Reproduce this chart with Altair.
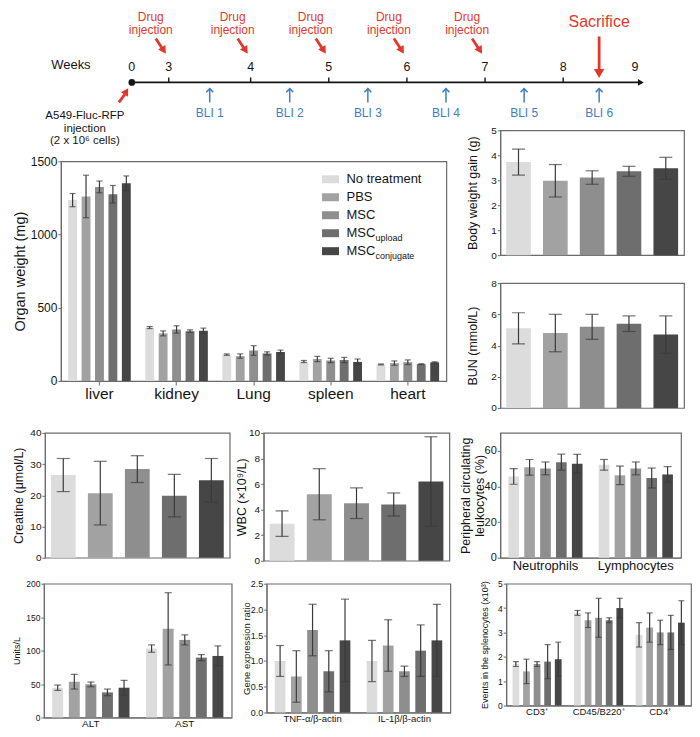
import altair as alt
import pandas as pd

FONT = "Liberation Sans"
RED = "#e2382c"
BLUE = "#3d7ebf"
FRAME = "#6b6b6b"
EBAR = "#3a3a3a"
INK = "#151515"

groups = ["No treatment", "PBS", "MSC", "MSC_upload", "MSC_conjugate"]
colors = ["#dcdcdc", "#a2a2a2", "#8e8e8e", "#6e6e6e", "#464646"]

# ---------------- timeline data ----------------
week_ticks = [0, 3, 4, 5, 6, 7, 8, 9]
drug_weeks = [3, 4, 5, 6, 7]
drug_label = ["Drug", "injection"]
bli_weeks = [3.5, 4.5, 5.5, 6.5, 7.5, 8.5]
bli_labels = ["BLI 1", "BLI 2", "BLI 3", "BLI 4", "BLI 5", "BLI 6"]
sacrifice_week = [8.5]
tumor_week = [0]
tumor_label = "A549-Fluc-RFP\ninjection\n(2 x 10⁶ cells)"

# ---------------- panel data ----------------
organs = ["liver", "kidney", "Lung", "spleen", "heart"]
organ_mean = [[1235, 1260, 1325, 1275, 1350],
              [365, 325, 352, 340, 343],
              [180, 170, 208, 188, 198],
              [133, 150, 140, 143, 130],
              [113, 122, 128, 115, 127]]
organ_sd = [[45, 145, 40, 60, 50],
            [7, 17, 25, 9, 18],
            [5, 15, 33, 11, 13],
            [7, 18, 15, 18, 20],
            [3, 15, 16, 2, 4]]

bw_mean = [3.73, 2.98, 3.11, 3.36, 3.48]
bw_sd = [0.52, 0.65, 0.27, 0.20, 0.44]
bun_mean = [5.1, 4.8, 5.2, 5.4, 4.7]
bun_sd = [1.0, 1.2, 0.8, 0.5, 1.2]
creat_mean = [26.5, 20.7, 28.4, 19.9, 24.8]
creat_sd = [5.3, 10.2, 4.3, 6.8, 7.0]
wbc_mean = [2.9, 5.2, 4.5, 4.4, 6.2]
wbc_sd = [1.0, 2.0, 1.2, 0.9, 3.5]

leuk_cats = ["Neutrophils", "Lymphocytes"]
leuk_mean = [[45.6, 50.7, 50.1, 53.6, 52.7], [52.1, 46.2, 50.1, 44.7, 46.7]]
leuk_sd = [[4.4, 4.4, 3.6, 4.5, 5.3], [3.0, 5.2, 3.6, 5.6, 4.4]]

enz_cats = ["ALT", "AST"]
enz_mean = [[44.5, 53.5, 49.5, 37.5, 44.5], [103, 132.5, 116, 89.5, 92]]
enz_sd = [[4, 11, 3.5, 5, 11], [5.5, 54, 7.5, 4.5, 15]]

gene_cats = ["TNF-α/β-actin", "IL-1β/β-actin"]
gene_mean = [[1.0, 0.7, 1.6, 0.8, 1.4], [1.0, 1.3, 0.8, 1.2, 1.4]]
gene_sd = [[0.3, 0.5, 0.5, 0.4, 0.8], [0.4, 0.5, 0.1, 0.5, 0.7]]

spl_cats = ["CD3⁺", "CD45/B220⁺", "CD4⁺"]
spl_mean = [[1.7, 1.4, 1.7, 1.8, 1.9], [3.8, 3.5, 3.6, 3.5, 4.0], [2.9, 3.2, 3.0, 3.0, 3.4]]
spl_sd = [[0.1, 0.5, 0.1, 0.7, 0.7], [0.1, 0.3, 0.8, 0.1, 0.4], [0.5, 0.6, 0.5, 0.7, 0.9]]


def grouped_df(cats, means, sds):
    rows = []
    for ci, c in enumerate(cats):
        for gi, g in enumerate(groups):
            m = means[ci][gi]
            e = sds[ci][gi]
            rows.append({"cat": c, "group": g, "mean": m, "lo": m - e, "hi": m + e})
    return pd.DataFrame(rows)


def panel(cats, means, sds, width, height, domain, yvalues, ytitle,
          tick_fs, title_fs, title_x, label_pad=1, tick_size=3,
          cat_fs=None, cat_ticks=0, cat_pad=2, offs=(0.33, 0.16), cap=8, ew=1.2, fmt=None):
    df = grouped_df(cats, means, sds)
    if cat_fs is None:
        xax = None
    else:
        xkw = dict(title=None, labelAngle=0, labelFontSize=cat_fs, labelFont=FONT,
                   labelColor=INK, domainColor=FRAME, labelPadding=cat_pad)
        if cat_ticks > 0:
            xkw.update(ticks=True, tickSize=cat_ticks, tickColor=FRAME)
        else:
            xkw.update(ticks=False)
        xax = alt.Axis(**xkw)
    x = alt.X("cat:N", sort=cats, scale=alt.Scale(paddingInner=0, paddingOuter=0), axis=xax)
    xo = alt.XOffset("group:N", sort=groups,
                     scale=alt.Scale(paddingInner=offs[0], paddingOuter=offs[1]))
    ysc = alt.Scale(domain=domain, nice=False, zero=True)
    akw = dict(values=yvalues, title=ytitle, grid=False, labelFontSize=tick_fs,
               titleFontSize=title_fs, titleX=title_x, titleBaseline="middle", labelPadding=label_pad,
               tickSize=tick_size, domainColor=FRAME, tickColor=FRAME, labelColor=INK,
               titleColor=INK, labelFont=FONT, titleFont=FONT, titleFontWeight="normal",
               titleLineHeight=title_fs + 2)
    if fmt:
        akw["format"] = fmt
    yax = alt.Axis(**akw)
    color = alt.Color("group:N", sort=groups, scale=alt.Scale(domain=groups, range=colors), legend=None)
    base = alt.Chart(df)
    bars = base.mark_bar().encode(x=x, xOffset=xo, y=alt.Y("mean:Q", scale=ysc, axis=yax), color=color)
    rule = base.mark_rule(color=EBAR, strokeWidth=ew).encode(
        x=x, xOffset=xo, y=alt.Y("lo:Q", scale=ysc, axis=yax), y2="hi:Q")
    cap_hi = base.mark_tick(color=EBAR, thickness=ew, size=cap).encode(
        x=x, xOffset=xo, y=alt.Y("hi:Q", scale=ysc, axis=yax))
    cap_lo = base.mark_tick(color=EBAR, thickness=ew, size=cap).encode(
        x=x, xOffset=xo, y=alt.Y("lo:Q", scale=ysc, axis=yax))
    return alt.layer(bars, rule, cap_hi, cap_lo).properties(width=width, height=height)


def spacer(w=1, h=1):
    return alt.Chart(pd.DataFrame({"a": [0]})).mark_point(opacity=0, size=1).encode(
        x=alt.value(0), y=alt.value(0)
    ).properties(width=w, height=h, view=alt.ViewBackground(stroke="transparent"))


def hcat(*charts, spacing):
    return alt.hconcat(*charts, spacing=spacing).resolve_scale(xOffset="independent")


def vcat(*charts, spacing, **kw):
    return alt.vconcat(*charts, spacing=spacing, **kw).resolve_scale(xOffset="independent")


# ---------------- organ weight panel with hand-made legend ----------------
organ_main = panel(organs, organ_mean, organ_sd, 386, 220, [0, 1500], [0, 500, 1000, 1500],
                   "Organ weight (mg)", tick_fs=12, title_fs=14.5, title_x=-40, label_pad=1,
                   tick_size=3, cat_fs=15.5, cat_ticks=4, offs=(0.34, 0.54), cap=6, ew=1.2, fmt="d")

leg_df = pd.DataFrame({
    "group": groups,
    "main": [g.split("_")[0] for g in groups],
    "sub": [g.split("_")[1] if "_" in g else "" for g in groups],
})
leg_y = alt.Y("group:N", sort=groups, axis=None,
              scale=alt.Scale(type="point", domain=groups, range=[18, 90], padding=0))
leg_color = alt.Color("group:N", sort=groups, scale=alt.Scale(domain=groups, range=colors), legend=None)
leg_sw = alt.Chart(leg_df).mark_point(
    shape="M-1,-0.47L1,-0.47L1,0.47L-1,0.47Z", filled=True, size=289, opacity=1, strokeWidth=0
).encode(x=alt.value(270), y=leg_y, color=leg_color)
leg_tx = alt.Chart(leg_df).mark_text(align="left", baseline="middle", fontSize=13, color=INK, font=FONT).encode(
    x=alt.value(286), y=leg_y, text="main:N")
leg_sub = alt.Chart(leg_df).mark_text(align="left", baseline="middle", fontSize=9, dy=5, color=INK, font=FONT).encode(
    x=alt.value(315), y=leg_y, text="sub:N")
organ = alt.layer(organ_main, alt.layer(leg_sw, leg_tx, leg_sub)).resolve_scale(y="independent")

bw = panel([""], [bw_mean], [bw_sd], 184, 125, [0, 5], [0, 1, 2, 3, 4, 5], "Body weight gain (g)",
           tick_fs=10, title_fs=12.5, title_x=-28, cap=13)
bun = panel([""], [bun_mean], [bun_sd], 184, 125, [0, 8], [0, 2, 4, 6, 8], "BUN (mmol/L)",
            tick_fs=10, title_fs=12.5, title_x=-28, cap=13)
creat = panel([""], [creat_mean], [creat_sd], 185, 125, [0, 40], [0, 10, 20, 30, 40], "Creatine (μmol/L)",
              tick_fs=10, title_fs=12.5, title_x=-26, cap=13)
wbc = panel([""], [wbc_mean], [wbc_sd], 186, 128, [0, 10], [0, 2, 4, 6, 8, 10], "WBC (×10⁹/L)",
            tick_fs=10, title_fs=12.5, title_x=-22, cap=13)
leuk = panel(leuk_cats, leuk_mean, leuk_sd, 181, 125, [0, 70], [0, 20, 40, 60],
             ["Peripheral circulating", "leukocytes (%)"], tick_fs=11, title_fs=12.5, title_x=-35,
             cat_fs=13, offs=(0.33, 0.51), cap=8)
enz = panel(enz_cats, enz_mean, enz_sd, 188, 134, [0, 200], [0, 50, 100, 150, 200], "Units/L",
            tick_fs=8.5, title_fs=9, title_x=-27, cat_fs=10, cat_pad=1, offs=(0.34, 0.5), cap=7)
gene = panel(gene_cats, gene_mean, gene_sd, 184, 129, [0, 2.5], [0, 0.5, 1.0, 1.5, 2.0, 2.5],
             "Gene expression ratio", tick_fs=9, title_fs=9.5, title_x=-20, cat_fs=9.5, cat_pad=1,
             offs=(0.34, 0.5), cap=8, fmt=".1f")
spl = panel(spl_cats, spl_mean, spl_sd, 185, 122, [0, 5], [0, 1, 2, 3, 4, 5],
            "Events in the splenocytes (x10³)", tick_fs=8.5, title_fs=9, title_x=-22, cat_fs=9.5,
            cat_pad=1, offs=(0.36, 0.59), cap=6)

# ---------------- timeline ----------------
xs = alt.Scale(domain=[0, 3, 4, 8, 9], range=[122, 159, 241, 554, 626], zero=False, nice=False)


def TX(field):
    return alt.X(field, type="quantitative", scale=xs, axis=None)


LINE_Y = 73
axis_end = week_ticks[-1] + 0.08
line_df = pd.DataFrame({"s": [week_ticks[0]], "e": [axis_end]})
tl_line = alt.Chart(line_df).mark_rule(color=INK, strokeWidth=1.6).encode(
    x=TX("s"), x2="e:Q", y=alt.value(LINE_Y))
tl_head = alt.Chart(line_df).mark_point(shape="triangle-right", filled=True, size=45, color=INK, opacity=1).encode(
    x=TX("e"), y=alt.value(LINE_Y))

tum_df = pd.DataFrame({"w": tumor_week, "label": [tumor_label]})
tl_dot = alt.Chart(tum_df).mark_circle(size=45, color=INK, opacity=1).encode(x=TX("w"), y=alt.value(LINE_Y))
tick_df = pd.DataFrame({"w": week_ticks[1:-1]})
tl_ticks = alt.Chart(tick_df).mark_rule(color=INK, strokeWidth=1.4).encode(
    x=TX("w"), y=alt.value(LINE_Y - 5), y2=alt.value(LINE_Y))
wk_df = pd.DataFrame({"w": week_ticks, "t": [str(w) for w in week_ticks]})
tl_wk = alt.Chart(wk_df).mark_text(fontSize=12.5, color=INK, font=FONT, baseline="middle").encode(
    x=TX("w"), y=alt.value(LINE_Y - 15), text="t:N")
tl_weeks = alt.Chart(pd.DataFrame({"t": ["Weeks"]})).mark_text(
    fontSize=13, color=INK, font=FONT, baseline="middle").encode(
    x=alt.value(61), y=alt.value(LINE_Y - 17), text="t:N")

drug_df = pd.DataFrame({"w": drug_weeks})
tl_drug_t1 = alt.Chart(drug_df).mark_text(fontSize=12, color=RED, font=FONT, baseline="middle", dx=-18,
                                           text=drug_label[0]).encode(x=TX("w"), y=alt.value(7))
tl_drug_t2 = alt.Chart(drug_df).mark_text(fontSize=12, color=RED, font=FONT, baseline="middle", dx=-18,
                                           text=drug_label[1]).encode(x=TX("w"), y=alt.value(20.5))
tl_drug_r = alt.Chart(drug_df).mark_rule(color=RED, strokeWidth=2.8, xOffset=-13, x2Offset=-6.5).encode(
    x=TX("w"), x2="w:Q", y=alt.value(29), y2=alt.value(39))
tl_drug_h = alt.Chart(drug_df).mark_point(shape="triangle-down", filled=True, size=75, color=RED, opacity=1,
                                          angle=328, xOffset=-5).encode(x=TX("w"), y=alt.value(41))

sac_df = pd.DataFrame({"w": sacrifice_week, "t": ["Sacrifice"]})
tl_sac_t = alt.Chart(sac_df).mark_text(fontSize=16, color=RED, font=FONT, baseline="middle").encode(
    x=TX("w"), y=alt.value(12), text="t:N")
tl_sac_r = alt.Chart(sac_df).mark_rule(color=RED, strokeWidth=2.8).encode(
    x=TX("w"), y=alt.value(27), y2=alt.value(LINE_Y - 12))
tl_sac_h = alt.Chart(sac_df).mark_point(shape="triangle-down", filled=True, size=110, color=RED, opacity=1).encode(
    x=TX("w"), y=alt.value(LINE_Y - 9))

bli_df = pd.DataFrame({"w": bli_weeks, "t": bli_labels})
tl_bli_r = alt.Chart(bli_df).mark_rule(color=BLUE, strokeWidth=1.5).encode(
    x=TX("w"), y=alt.value(LINE_Y + 6), y2=alt.value(LINE_Y + 20))
tl_bli_h = alt.Chart(bli_df).mark_point(shape="M-1,0.5L0,-0.5L1,0.5", filled=False, size=49, color=BLUE,
                                        strokeWidth=1.5, opacity=1).encode(x=TX("w"), y=alt.value(LINE_Y + 8))
tl_bli_t = alt.Chart(bli_df).mark_text(fontSize=12, color=BLUE, font=FONT, baseline="middle").encode(
    x=TX("w"), y=alt.value(LINE_Y + 31), text="t:N")

tl_tum_r = alt.Chart(tum_df).mark_rule(color=RED, strokeWidth=2.8, xOffset=-13, x2Offset=-7).encode(
    x=TX("w"), x2="w:Q", y=alt.value(LINE_Y + 20), y2=alt.value(LINE_Y + 12))
tl_tum_h = alt.Chart(tum_df).mark_point(shape="triangle-up", filled=True, size=70, color=RED, opacity=1,
                                        angle=32, xOffset=-5.5).encode(x=TX("w"), y=alt.value(LINE_Y + 9))
tl_tum_t = alt.Chart(tum_df).mark_text(fontSize=11.5, color=INK, font=FONT, baseline="top", lineBreak="\n",
                                        lineHeight=12.5, dx=-47).encode(
    x=TX("w"), y=alt.value(LINE_Y + 28), text="label:N")

timeline = alt.layer(
    tl_line, tl_head, tl_ticks, tl_dot, tl_wk, tl_weeks,
    tl_drug_r, tl_drug_h, tl_drug_t1, tl_drug_t2, tl_sac_r, tl_sac_h, tl_sac_t,
    tl_bli_r, tl_bli_h, tl_bli_t, tl_tum_r, tl_tum_h, tl_tum_t
).properties(width=670, height=100, view=alt.ViewBackground(stroke="transparent"))

# ---------------- layout ----------------
organ_col = vcat(spacer(), organ, spacing=22)
row2 = hcat(spacer(), hcat(organ_col, vcat(bw, bun, spacing=16), spacing=18), spacing=0)
row3 = hcat(spacer(), hcat(hcat(creat, wbc, spacing=4), leuk, spacing=8), spacing=0)
row4 = hcat(spacer(), hcat(hcat(enz, gene, spacing=8), spl, spacing=28), spacing=0)
body = vcat(row2, vcat(row3, row4, spacing=5), spacing=13)

chart = vcat(timeline, body, spacing=21, bounds="flush").properties(padding=0).configure(
    padding=0
).configure_view(
    stroke=FRAME, strokeWidth=1.2
).configure_axis(labelFont=FONT, titleFont=FONT).configure_text(font=FONT)

chart.save("out.html", embed_options={"renderer": "svg", "actions": False})
